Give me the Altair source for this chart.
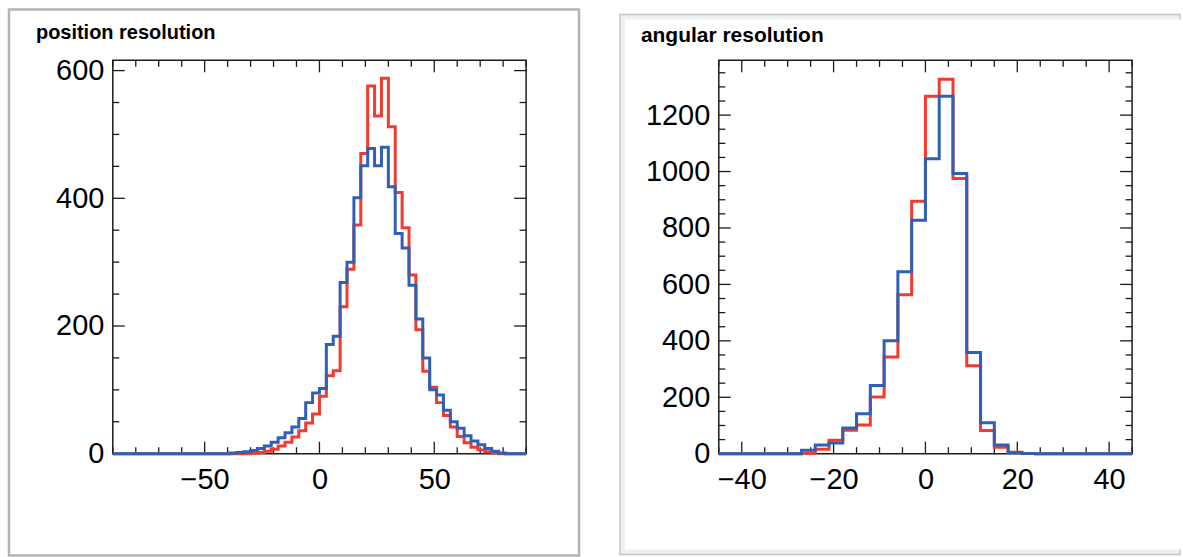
import altair as alt
import pandas as pd

# ---------------- data ----------------
# position resolution: 60 bins of width 3 on [-90, 90]
pos_edges = list(range(-90, 91, 3))
pos_red = [0, 0, 0, 0, 0, 0, 0, 0, 0, 0, 0, 0, 0, 0, 0, 0, 0,
           0, 0, 0, 1, 2, 4, 7, 12, 18, 26, 36, 48, 62, 90, 122, 130,
           230, 289, 358, 470, 576, 529, 588, 512, 409, 354, 280, 194,
           129, 104, 80, 60, 42, 27, 17, 10, 6, 3, 1, 0,
           0, 0, 0]
pos_blue = [0, 0, 0, 0, 0, 0, 0, 0, 0, 0, 0, 0, 0, 0, 0, 0, 0,
            1, 2, 3, 5, 8, 12, 18, 25, 33, 42, 55, 80, 95, 102, 171, 184,
            268, 300, 401, 451, 478, 451, 480, 418, 345, 322, 264, 211,
            150, 100, 92, 68, 50, 40, 28, 20, 14, 8, 4, 1,
            0, 0, 0]

# angular resolution: 30 bins of width 3 on [-45, 45]
ang_edges = list(range(-45, 46, 3))
ang_red = [0, 0, 0, 0, 0, 0,
           2, 16, 48, 83, 102, 201, 343, 563, 895, 1267, 1327, 975, 312, 82, 23, 5, 1,
           0, 0, 0, 0, 0, 0, 0]
ang_blue = [0, 0, 0, 0, 0, 0,
            12, 31, 38, 91, 142, 242, 400, 645, 827, 1045, 1267, 993, 359, 110, 31, 3, 1,
            0, 0, 0, 0, 0, 0, 0]

titles = ["position resolution", "angular resolution"]

pos_x_major = [-50, 0, 50]
pos_x_minor = [-90, -80, -70, -60, -40, -30, -20, -10, 10, 20, 30, 40, 60, 70, 80, 90]
pos_y_major = [0, 200, 400, 600]
pos_y_minor = [50, 100, 150, 250, 300, 350, 450, 500, 550]

ang_x_major = [-40, -20, 0, 20, 40]
ang_x_minor = [-45, -35, -30, -25, -15, -10, -5, 5, 10, 15, 25, 30, 35, 45]
ang_y_major = [0, 200, 400, 600, 800, 1000, 1200]
ang_y_minor = [50, 100, 150, 250, 300, 350, 450, 500, 550, 650, 700, 750,
               850, 900, 950, 1050, 1100, 1150, 1250, 1300, 1350]

RED = "#f23a2e"
BLUE = "#2f60b6"
INK = "#1c1c1c"
FONT = "Liberation Sans"
W, H = 414, 394
MAJ, MIN = 12, 6.5


def panel(edges, red, blue, xdom, ydom, xmaj, xmin, ymaj, ymin,
          title, tx, ty, tsize, deco):
    one = pd.DataFrame({"k": [0]})
    xs = alt.Scale(domain=xdom, nice=False, zero=False)
    ys = alt.Scale(domain=ydom, nice=False, zero=False)
    xax = alt.Axis(values=xmaj, format="d", ticks=False, tickSize=0, domain=False,
                   grid=False, labelFont=FONT, labelFontSize=29, labelColor="black",
                   labelPadding=12, labelFlush=False, zindex=2, title=None)
    yax = alt.Axis(values=ymaj, format="d", ticks=False, tickSize=0, domain=False,
                   grid=False, labelFont=FONT, labelFontSize=29, labelColor="black",
                   labelPadding=9, zindex=2, title=None)
    X = alt.X("x:Q", scale=xs, axis=xax)
    Y = alt.Y("y:Q", scale=ys, axis=yax)

    layers = list(deco)

    layers.append(alt.Chart(one).mark_text(
        align="left", baseline="alphabetic", font=FONT, fontWeight="bold",
        fontSize=tsize, color="black").encode(
        x=alt.value(tx), y=alt.value(ty), text=alt.value(title)))

    layers.append(alt.Chart(one).mark_rect(
        fill="transparent", stroke=INK, strokeWidth=1.5).encode(
        x=alt.value(0), x2=alt.value(W), y=alt.value(0), y2=alt.value(H)))

    for vals, L in ((xmaj, MAJ), (xmin, MIN)):
        d = pd.DataFrame({"x": vals})
        base = alt.Chart(d).mark_rule(color=INK, strokeWidth=1.3)
        layers.append(base.encode(x=X, y=alt.value(H), y2=alt.value(H - L)))
        layers.append(base.encode(x=X, y=alt.value(0), y2=alt.value(L)))
    for vals, L in ((ymaj, MAJ), (ymin, MIN)):
        d = pd.DataFrame({"y": vals})
        base = alt.Chart(d).mark_rule(color=INK, strokeWidth=1.3)
        layers.append(base.encode(y=Y, x=alt.value(0), x2=alt.value(L)))
        layers.append(base.encode(y=Y, x=alt.value(W), x2=alt.value(W - L)))

    for vals, col in ((red, RED), (blue, BLUE)):
        d = pd.DataFrame({"x": edges, "y": vals + [vals[-1]]})
        layers.append(alt.Chart(d).mark_line(
            interpolate="step-after", color=col, strokeWidth=3).encode(x=X, y=Y))

    return alt.layer(*layers).properties(width=W, height=H)


one = pd.DataFrame({"k": [0]})
# left panel decorations (origin at plot area 112, 59)
left_deco = [
    alt.Chart(one).mark_rect(fill="white").encode(
        x=alt.value(-112), x2=alt.value(1071), y=alt.value(-59), y2=alt.value(498)),
    alt.Chart(one).mark_rect(fill="white", stroke="#b4b4b4", strokeWidth=2.5).encode(
        x=alt.value(-104), x2=alt.value(467), y=alt.value(-51), y2=alt.value(496)),
]
# right panel decorations (origin at plot area 719, 59)
right_deco = [
    alt.Chart(one).mark_rect(fill="#edf2f1", stroke="#c2c6c6", strokeWidth=1.5).encode(
        x=alt.value(-99), x2=alt.value(462), y=alt.value(-46), y2=alt.value(495)),
    alt.Chart(one).mark_rect(fill="white").encode(
        x=alt.value(-94), x2=alt.value(464), y=alt.value(-41), y2=alt.value(490)),
]

left = panel(pos_edges, pos_red, pos_blue, [-90, 90], [0, 616],
             pos_x_major, pos_x_minor, pos_y_major, pos_y_minor,
             titles[0], -77, -21, 20, left_deco)
right = panel(ang_edges, ang_red, ang_blue, [-45, 45], [0, 1394],
              ang_x_major, ang_x_minor, ang_y_major, ang_y_minor,
              titles[1], -78, -18, 21, right_deco)

chart = alt.hconcat(left, right, spacing=193, bounds="flush").properties(
    padding=0).configure_view(stroke="transparent")

chart.save("out.html", embed_options={"renderer": "svg", "actions": False})
